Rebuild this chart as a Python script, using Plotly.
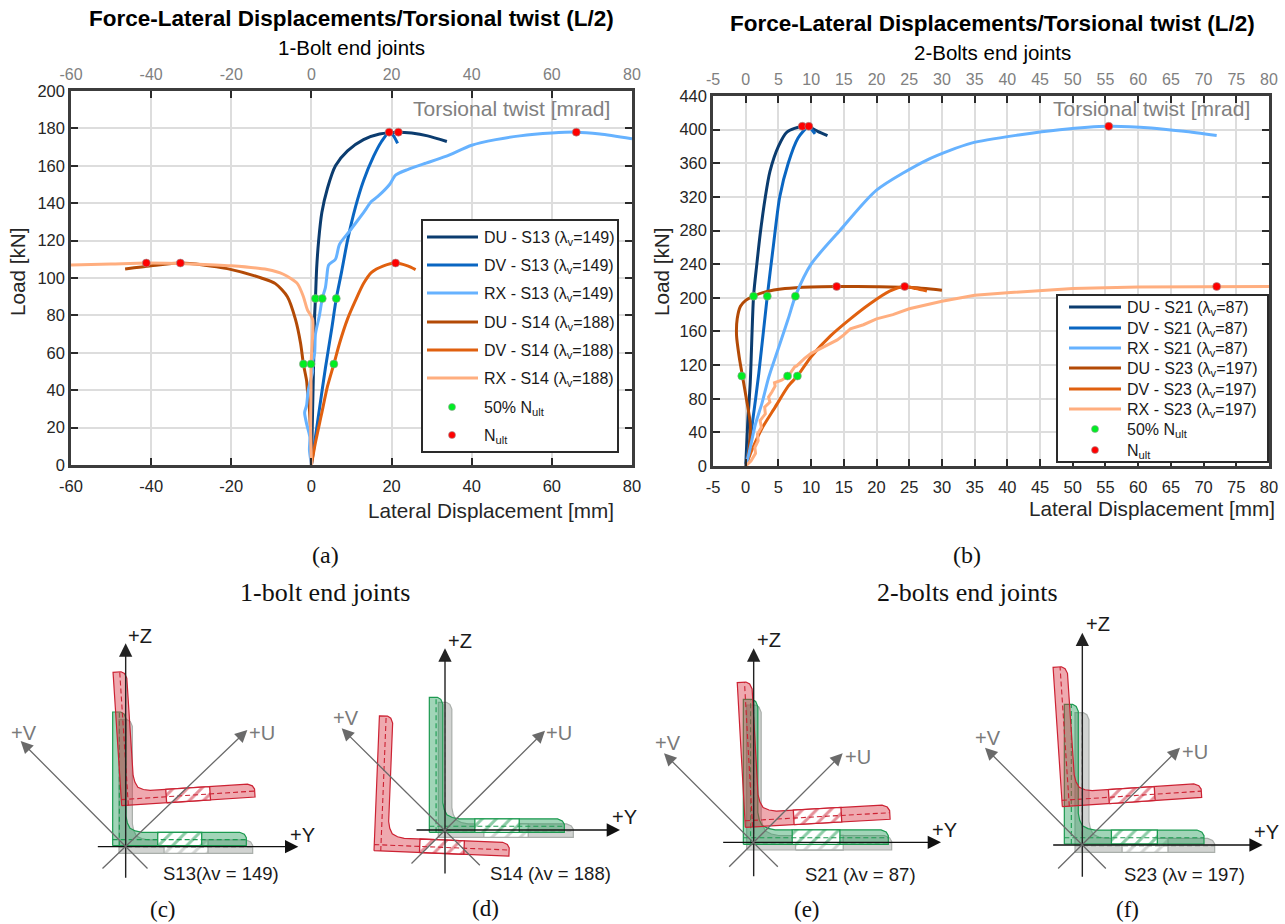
import math
import plotly.graph_objects as go

W, H = 1285, 924
SANS = "Liberation Sans"
SERIF = "Liberation Serif"

C_DU1, C_DV1, C_RX1 = "#0b3c6f", "#0a66c2", "#66b2ff"
C_DU2, C_DV2, C_RX2 = "#b34a06", "#e0600f", "#ffae7f"
C_HALF, C_ULT = "#00ee22", "#ff0000"

# ---------- panel (a) ----------
a_du13_x = [0,0.2,0.4,0.6,0.8,1,1.3,1.8,2.6,4,6,9,13,17,21.7,25,29,33.8]
a_du13_y = [0,20,40,60,80,89,105,120,135,148,160,168,174,177,178,177.5,176,173]
a_dv13_x = [0,1,2,3.5,5,6.2,7.5,9,11,13,15.5,17.5,19.4,20.5,21.5]
a_dv13_y = [0,15,30,52,72,89,103,120,138,152,165,173,178,176,172]
a_rx13_x = [0,-0.5,-0.4,-1.2,-1.7,-1.2,-0.8,0.3,0.2,0.8,1,2,2.7,3.5,3.8,4.3,6,7,9.5,13,15,16.5,19.5,21,24,28,33.5,40,46,52,60,66,72,80]
a_rx13_y = [0,8,15,22,28,32,40,50,54,60,70,80,89,95,100,107,110,118,125,135,141,143.5,150,155,158,161,165,171,174,176,177.5,178,177,174.5]
a_du14_x = [0,-0.2,-0.5,-1,-1.2,-2,-2.7,-4,-6,-9,-12.5,-21,-27,-32.7,-40,-46.5]
a_du14_y = [0,15,30,40,45,54,65,78,90,97,100,105,107,108,106.5,104.8]
a_dv14_x = [0,1,2.5,4,5.6,7,9,11,13,15,18,21,24,26]
a_dv14_y = [0,12,27,42,54,65,78,88,97,103,106.5,108,106.5,104.5]
a_rx14_x = [0,-0.2,-0.1,-0.1,0.2,0.3,-1,-2,-3.5,-7,-11,-20,-30,-41,-50,-60]
a_rx14_y = [0,20,40,54,65,78,83,90,97,102,104.5,106.5,107.5,108,107.5,107]
a_half_x = [1,2.7,6.2,-2,-0.1,5.6]
a_half_y = [89,89,89,54,54,54]
a_ult_x = [19.4,21.7,66.1,-32.7,21,-41.2]
a_ult_y = [178,178,178,108,108,108]
a_names = ["DU - S13 (λ<sub>v</sub>=149)","DV - S13 (λ<sub>v</sub>=149)","RX - S13 (λ<sub>v</sub>=149)",
           "DU - S14 (λ<sub>v</sub>=188)","DV - S14 (λ<sub>v</sub>=188)","RX - S14 (λ<sub>v</sub>=188)"]

# ---------- panel (b) ----------
b_du21_x = [0,0.3,0.7,1.2,1.7,2.2,3,3.7,5,6.3,8.65,10,11,12.5]
b_du21_y = [0,50,100,202,240,275,320,350,380,397,404,402,398,393]
b_dv21_x = [0,1,2,3.3,4.2,5.2,6.5,8,9.65,10,10.6]
b_dv21_y = [0,50,110,202,260,320,360,390,404,401,395]
b_rx21_x = [0,0.5,1.5,2.5,3.5,5,6.5,7.6,10,14.4,20,28,34.5,42,48,55.5,62,67,72]
b_rx21_y = [0,15,50,75,105,140,175,202,240,280,328,365,384,394,400,404,402,398,393]
b_du23_x = [0,0.5,0.7,0.1,-0.5,-1,-1.4,-1.3,-0.8,0,1.2,3,6,10,14,20,25,30]
b_du23_y = [0,20,50,80,107,130,155,175,190,197,202,207,211,213,213.5,213.3,212.5,209]
b_dv23_x = [0,1,2.5,4.5,6.5,7.9,10,13,16,19,22,24.3,26,27.7]
b_dv23_y = [0,20,45,70,95,107,130,155,175,193,208,213.5,211,208]
b_rx23_x = [0,0.8,1.5,1.4,1.9,1.8,2.4,2.2,3,2.9,3.7,3.5,4,4.5,4.4,5.5,6.5,7.5,7.8,9,10,11,12.5,14,15,16,18,20,22.5,25,30,35,40,50,60,72,80]
b_rx23_y = [0,6,15,22,30,38,46,54,62,70,76,82,88,95,99,102,107,118,119,128,134,138,144,150,156,163,168,175,180,187,196,203,206,211,213,213.5,213.5]
b_half_x = [1.2,3.3,7.6,-0.6,6.4,7.9]
b_half_y = [202,202,202,107,107,107]
b_ult_x = [8.65,9.65,55.5,13.9,24.3,72]
b_ult_y = [404,404,404,213.5,213.5,213.5]
b_names = ["DU - S21 (λ<sub>v</sub>=87)","DV - S21 (λ<sub>v</sub>=87)","RX - S21 (λ<sub>v</sub>=87)",
           "DU - S23 (λ<sub>v</sub>=197)","DV - S23 (λ<sub>v</sub>=197)","RX - S23 (λ<sub>v</sub>=197)"]
mark_names = ["50% N<sub>ult</sub>", "N<sub>ult</sub>"]

a_xticks = [-60,-40,-20,0,20,40,60,80]
a_yticks = list(range(0,201,20))
b_xticks = list(range(-5,81,5))
b_yticks = list(range(0,441,40))

# ---------- key boxes, px ----------
a_key_box = (422,220,618,452)
a_key_rows = [237,265,293,322,350,378,407,435]
a_key_line = (427,478); a_key_mark = 452; a_key_text = 482
b_key_box = (1057,295,1268,462)
b_key_rows = [307,328,348,368,389,409,429,450]
b_key_line = (1069,1121); b_key_mark = 1095; b_key_text = 1125

# ---------- section diagrams (zoom-crop units, 1/3 px) ----------
panel_off = [(0,610),(320,610),(640,610),(960,610)]
panel_origin = [(377,710),(375,660),(341,697),(367,705)]
panel_y_axis = [(289,895),(285,900),(245,903),(275,908)]
panel_z_axis = [(808,100),(795,115),(803,115),(805,68)]
panel_u_axis = [(303,780,742,360),(270,765,675,362),(263,775,608,430),(290,780,660,413)]
panel_v_axis = [(447,780,62,393),(484,770,65,355),(418,775,72,430),(442,780,75,413)]
panel_lbl_z = [(420,78),(420,92),(388,90),(413,42)]
panel_lbl_y = [(908,675),(912,622),(912,660),(920,665)]
panel_lbl_v = [(72,368),(78,323),(83,398),(85,385)]
panel_lbl_u = [(787,368),(718,368),(655,440),(705,425)]
panel_text = ["S13(λv = 149)","S14 (λv = 188)","S21 (λv = 87)","S23 (λv = 197)"]
panel_text_xy = [(662,790),(692,790),(660,793),(673,793)]
panel_tag = ["(c)","(d)","(e)","(f)"]
panel_tag_xy = [(490,897),(495,895),(500,898),(503,897)]
gray_corner = [(357,730),(355,682),(320,720),(345,727)]
green_corner = [(338,707),(328,667),(310,703),(313,702)]
red_corner = [(365,587),(162,722),(316,652),(307,590)]
leg_len = [401,405,435,419]
red_rot = [3.7,-2.3,3.2,3.8]

outline_u = [0,1,1,0.985,0.95,0.22,0.17,0.13,0.11,0.10,0.10,0.085,0.06,0,0]
outline_v = [0,0,0.06,0.085,0.10,0.10,0.11,0.13,0.17,0.22,0.95,0.985,1,1,0]
hatch_u = [0.337,0.666,0.666,0.337,0.337]
hatch_v = [0,0,0.10,0.10,0]
dash_h_u, dash_h_v = [0,1], [0.045,0.045]
dash_v_u, dash_v_v = [0.05,0.05], [0,1]

STATE = {
    "gray": dict(fill="rgba(140,145,140,0.40)", line="#a9aeaa"),
    "green": dict(fill="rgba(30,155,85,0.42)", line="#1c9a50"),
    "red": dict(fill="rgba(218,50,65,0.42)", line="#cc2233"),
}

fig = go.Figure()

def add_curve(xs, ys, name, color, xa, ya, shape="spline"):
    line = dict(color=color, width=3, shape=shape)
    if shape == "spline":
        line["smoothing"] = 0.7
    fig.add_trace(go.Scatter(x=xs, y=ys, mode="lines", name=name, xaxis=xa, yaxis=ya,
                             line=line, showlegend=False, hoverinfo="skip"))

def add_marks(xs, ys, name, color, xa, ya):
    fig.add_trace(go.Scatter(x=xs, y=ys, mode="markers", name=name, xaxis=xa, yaxis=ya,
                             marker=dict(color=color, size=8, line=dict(color="#9a9a9a", width=0.6)),
                             showlegend=False, hoverinfo="skip"))

for xs, ys, n, c, xa in [(a_du13_x,a_du13_y,a_names[0],C_DU1,"x"),(a_dv13_x,a_dv13_y,a_names[1],C_DV1,"x"),
                         (a_rx13_x,a_rx13_y,a_names[2],C_RX1,"x2"),(a_du14_x,a_du14_y,a_names[3],C_DU2,"x"),
                         (a_dv14_x,a_dv14_y,a_names[4],C_DV2,"x"),(a_rx14_x,a_rx14_y,a_names[5],C_RX2,"x2")]:
    add_curve(xs, ys, n, c, xa, "y")
add_marks(a_half_x, a_half_y, mark_names[0], C_HALF, "x2", "y")
add_marks(a_ult_x, a_ult_y, mark_names[1], C_ULT, "x2", "y")

for xs, ys, n, c, xa, sh in [(b_du21_x,b_du21_y,b_names[0],C_DU1,"x3","spline"),(b_dv21_x,b_dv21_y,b_names[1],C_DV1,"x3","spline"),
                             (b_rx21_x,b_rx21_y,b_names[2],C_RX1,"x4","spline"),(b_du23_x,b_du23_y,b_names[3],C_DU2,"x3","spline"),
                             (b_dv23_x,b_dv23_y,b_names[4],C_DV2,"x3","spline"),(b_rx23_x,b_rx23_y,b_names[5],C_RX2,"x4","linear")]:
    add_curve(xs, ys, n, c, xa, "y2", sh)
add_marks(b_half_x, b_half_y, mark_names[0], C_HALF, "x4", "y2")
add_marks(b_ult_x, b_ult_y, mark_names[1], C_ULT, "x4", "y2")

def place(us, vs, corner, L, rot, off):
    t = math.radians(rot)
    cx, cy = corner
    xs = [off[0] + (cx + L*(u*math.cos(t) - v*math.sin(t)))/3 for u, v in zip(us, vs)]
    ys = [off[1] + (cy - L*(u*math.sin(t) + v*math.cos(t)))/3 for u, v in zip(us, vs)]
    return xs, ys

def add_section(state, corner, L, rot, off):
    st = STATE[state]
    xs, ys = place(outline_u, outline_v, corner, L, rot, off)
    fig.add_trace(go.Scatter(x=xs, y=ys, mode="lines", fill="toself", fillcolor=st["fill"],
                             line=dict(color=st["line"], width=1.2), xaxis="x5", yaxis="y3",
                             showlegend=False, hoverinfo="skip"))
    xs, ys = place(hatch_u, hatch_v, corner, L, rot, off)
    fig.add_trace(go.Scatter(x=xs, y=ys, mode="lines", fill="toself",
                             fillpattern=dict(shape="/", fgcolor=st["line"], bgcolor="white", size=10, solidity=0.3),
                             line=dict(color=st["line"], width=1.3), xaxis="x5", yaxis="y3",
                             showlegend=False, hoverinfo="skip"))
    for us, vs in [(dash_h_u, dash_h_v), (dash_v_u, dash_v_v)]:
        xs, ys = place(us, vs, corner, L, rot, off)
        fig.add_trace(go.Scatter(x=xs, y=ys, mode="lines", line=dict(color=st["line"], width=1.1, dash="5px,3px"),
                                 xaxis="x5", yaxis="y3", showlegend=False, hoverinfo="skip"))

annots = []
shapes = []

def txt(x, y, s, size, color="#1a1a1a", fam=SANS, bold=False, angle=0, anchor="center"):
    annots.append(dict(x=x, y=y, xref="x5", yref="y3", text=f"<b>{s}</b>" if bold else s, showarrow=False,
                       font=dict(family=fam, size=size, color=color), textangle=angle,
                       xanchor=anchor, yanchor="middle"))

def arrow(x0, y0, x1, y1, color, width=1.4):
    annots.append(dict(x=x1, y=y1, ax=x0, ay=y0, xref="x5", yref="y3", axref="x5", ayref="y3", text="",
                       showarrow=True, arrowhead=2, arrowsize=1.9, arrowwidth=width, arrowcolor=color, standoff=0))

def key(box, rows, line_x, mark_x, text_x, names, colors):
    shapes.append(dict(type="rect", xref="x5", yref="y3", x0=box[0], y0=box[1], x1=box[2], y1=box[3],
                       fillcolor="white", line=dict(color="#2a2a2a", width=2), layer="above"))
    for i, (name, color) in enumerate(zip(names, colors)):
        shapes.append(dict(type="line", xref="x5", yref="y3", x0=line_x[0], x1=line_x[1], y0=rows[i], y1=rows[i],
                           line=dict(color=color, width=3), layer="above"))
        txt(text_x, rows[i]+1, name, 16, "#1a1a1a", anchor="left")
    for j, color in enumerate([C_HALF, C_ULT]):
        r = rows[6+j]
        shapes.append(dict(type="circle", xref="x5", yref="y3", x0=mark_x-3.5, x1=mark_x+3.5, y0=r-3.5, y1=r+3.5,
                           fillcolor=color, line=dict(color="#9a9a9a", width=0.6), layer="above"))
        txt(text_x, r+1, mark_names[j], 16, "#1a1a1a", anchor="left")

key(a_key_box, a_key_rows, a_key_line, a_key_mark, a_key_text, a_names, [C_DU1,C_DV1,C_RX1,C_DU2,C_DV2,C_RX2])
key(b_key_box, b_key_rows, b_key_line, b_key_mark, b_key_text, b_names, [C_DU1,C_DV1,C_RX1,C_DU2,C_DV2,C_RX2])

for i in range(4):
    off = panel_off[i]
    add_section("gray", gray_corner[i], leg_len[i], 0, off)
    add_section("green", green_corner[i], leg_len[i], 0, off)
    add_section("red", red_corner[i], leg_len[i], red_rot[i], off)
    def px(p):
        return off[0] + p[0]/3, off[1] + p[1]/3
    oy = panel_origin[i][1]; ox = panel_origin[i][0]
    a = px((panel_y_axis[i][0], oy)); b = px((panel_y_axis[i][1], oy))
    arrow(a[0], a[1], b[0], b[1], "#111111")
    a = px((ox, panel_z_axis[i][0])); b = px((ox, panel_z_axis[i][1]))
    arrow(a[0], a[1], b[0], b[1], "#222222")
    for seg in (panel_u_axis[i], panel_v_axis[i]):
        a = px(seg[:2]); b = px(seg[2:])
        arrow(a[0], a[1], b[0], b[1], "#6a6a6a", 1.3)
    txt(*px(panel_lbl_z[i]), "+Z", 20)
    txt(*px(panel_lbl_y[i]), "+Y", 20)
    txt(*px(panel_lbl_v[i]), "+V", 20, "#7a7a7a")
    txt(*px(panel_lbl_u[i]), "+U", 20, "#7a7a7a")
    txt(*px(panel_text_xy[i]), panel_text[i], 18.5)
    txt(*px(panel_tag_xy[i]), panel_tag[i], 23, "#111111", SERIF)

# ---------- page texts ----------
TITLE = "Force-Lateral Displacements/Torsional twist (L/2)"
txt(351, 18, TITLE, 22.5, "#000000", bold=True)
txt(351, 47, "1-Bolt end joints", 20.5, "#000000")
txt(992, 23, TITLE, 22.5, "#000000", bold=True)
txt(992, 52, "2-Bolts end joints", 20.5, "#000000")
txt(511, 108, "Torsional twist [mrad]", 21, "#808080")
txt(1151, 108, "Torsional twist [mrad]", 21, "#808080")
txt(491, 510, "Lateral Displacement [mm]", 20.7, "#262626")
txt(1152, 508, "Lateral Displacement [mm]", 20.7, "#262626")
txt(17, 272, "Load [kN]", 20.7, "#262626", angle=-90)
txt(661, 272, "Load [kN]", 20.7, "#262626", angle=-90)
txt(325, 555, "(a)", 24, "#111111", SERIF)
txt(967, 555, "(b)", 24, "#111111", SERIF)
txt(325, 592, "1-bolt end joints", 26, "#111111", SERIF)
txt(967, 592, "2-bolts end joints", 26, "#111111", SERIF)

def xdom(l, r):
    return [l/W, r/W]
def ydom(t, b):
    return [1 - b/H, 1 - t/H]

GRID = "#dddddd"
AX = "#3c3c3c"
def base_x(rng, ticks, dom, anchor):
    return dict(domain=xdom(*dom), range=rng, tickvals=ticks, ticktext=[str(t) for t in ticks], anchor=anchor,
                showgrid=True, gridcolor=GRID, gridwidth=2, ticklabelstandoff=4,
                zeroline=False, showline=True, linecolor=AX, linewidth=2.5, mirror="ticks", ticks="inside",
                ticklen=7, tickwidth=2, tickcolor="#2a2a2a", tickfont=dict(family=SANS, size=16.5, color="#262626"))
def base_y(rng, ticks, dom, anchor):
    return dict(domain=ydom(*dom), range=rng, tickvals=ticks, ticktext=[str(t) for t in ticks], anchor=anchor,
                showgrid=True, gridcolor=GRID, gridwidth=2,
                zeroline=False, showline=True, linecolor=AX, linewidth=2.5, mirror="ticks", ticks="inside",
                ticklen=7, tickwidth=2, tickcolor="#2a2a2a", tickfont=dict(family=SANS, size=16.5, color="#262626"))
def top_x(rng, ticks, over, anchor):
    return dict(range=rng, tickvals=ticks, ticktext=[str(t) for t in ticks], overlaying=over, side="top", anchor=anchor,
                showgrid=False, zeroline=False, ticklabelstandoff=7,
                showline=False, ticks="", tickfont=dict(family=SANS, size=16, color="#808080"))

A_DOM_X, A_DOM_Y = (71,632), (91,465)
B_DOM_X, B_DOM_Y = (713,1269), (96,466)

fig.update_layout(
    width=W, height=H, margin=dict(l=0, r=0, t=0, b=0, pad=0, autoexpand=False), autosize=False,
    paper_bgcolor="white", plot_bgcolor="rgba(0,0,0,0)", font=dict(family=SANS),
    xaxis=base_x([-60,80], a_xticks, A_DOM_X, "y"),
    xaxis2=top_x([-60,80], a_xticks, "x", "y"),
    yaxis=base_y([0,200], a_yticks, A_DOM_Y, "x"),
    xaxis3=base_x([-5,80], b_xticks, B_DOM_X, "y2"),
    xaxis4=top_x([-5,80], b_xticks, "x3", "y2"),
    yaxis2=base_y([0,440], b_yticks, B_DOM_Y, "x3"),
    xaxis5=dict(domain=[0,1], range=[0,W], visible=False, anchor="y3", fixedrange=True),
    yaxis3=dict(domain=[0,1], range=[H,0], visible=False, anchor="x5", fixedrange=True),
    annotations=annots,
    shapes=shapes,
    showlegend=False,
)

fig.write_html("out.html", config={"displayModeBar": False},
               post_script="document.body.style.margin='0';document.documentElement.style.overflow='hidden';")
